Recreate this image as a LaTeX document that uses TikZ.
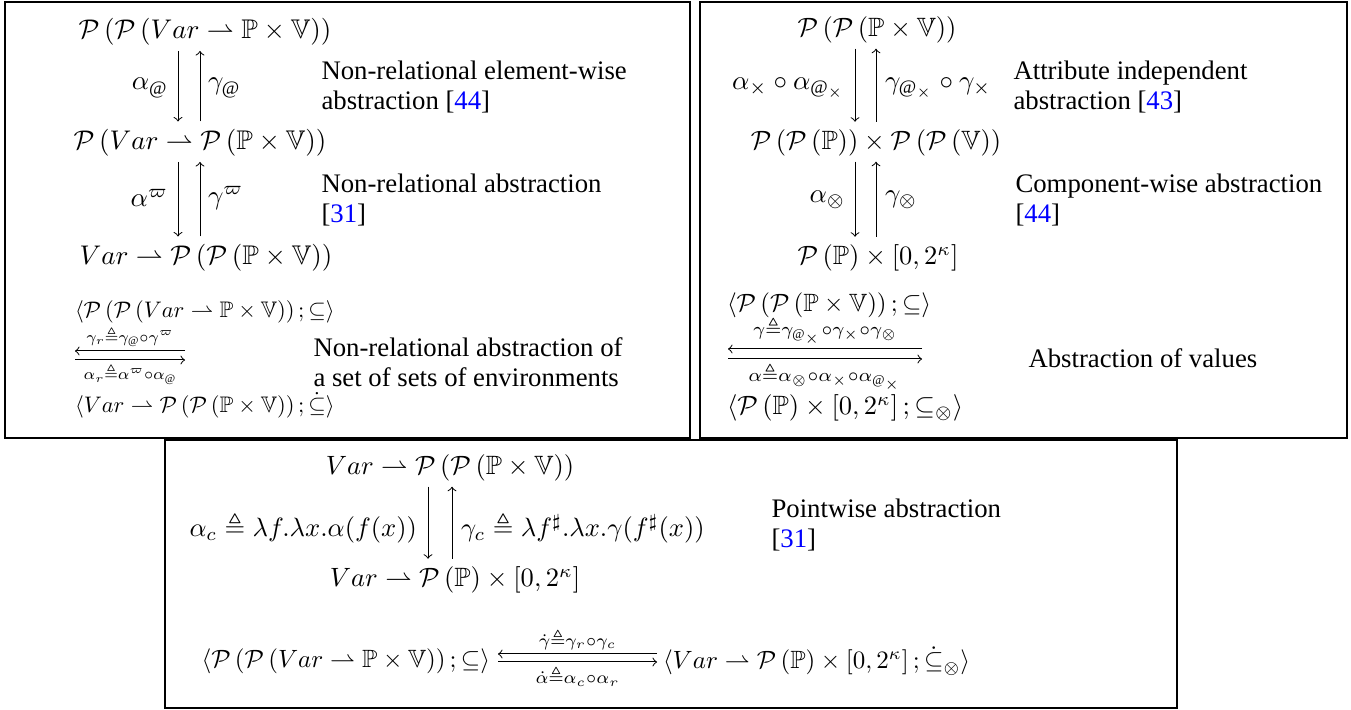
\documentclass[tikz,border=0pt]{standalone}
\usepackage{amsmath,amssymb}
\usepackage{fontspec}
\setmainfont{Liberation Serif}
\usetikzlibrary{calc}
\tikzset{
  m/.style={inner sep=1pt},
  lbl/.style={inner sep=1pt},
  txt/.style={align=left, inner sep=0pt, anchor=west, font=\fontsize{10.7}{12}\selectfont},
  frame/.style={draw, line width=0.5pt},
  arr/.style={->, line width=0.4pt},
}
\newcommand{\Pc}{\mathcal{P}}
\newcommand{\pf}{\rightharpoonup}
\newcommand{\cit}[1]{[\textcolor{blue}{#1}]}
\newcommand{\mA}[1]{\scalebox{1.08}{$#1$}}
\newcommand{\mB}[1]{\scalebox{1.06}{$#1$}}
\newcommand{\mS}[1]{\scalebox{0.9}{$#1$}}
\begin{document}
\begin{tikzpicture}[x=0.4pt,y=-0.4pt]
\useasboundingbox (0,0) rectangle (1351,710);
% frames
\draw[frame] (5,2) rectangle (690,438);
\draw[frame] (700,2) rectangle (1347,438);
\draw[frame] (165,440) rectangle (1177,708);

% ---------- Box 1 ----------
\node[m] (a1) at (205,32) {\mA{\Pc\left(\Pc\left(Var\pf\mathbb{P}\times\mathbb{V}\right)\right)}};
\node[m] (a2) at (200,143) {\mA{\Pc\left(Var\pf\Pc\left(\mathbb{P}\times\mathbb{V}\right)\right)}};
\node[m] (a3) at (206,258) {\mA{Var\pf\Pc\left(\Pc\left(\mathbb{P}\times\mathbb{V}\right)\right)}};
\coordinate (xa) at (178,0);
\coordinate (xb) at (200,0);
\draw[arr, shorten <=1pt, shorten >=2pt] (a1.south -| xa) -- (a2.north -| xa);
\draw[arr, shorten <=2pt, shorten >=1pt] (a2.north -| xb) -- (a1.south -| xb);
\draw[arr, shorten <=1pt, shorten >=2pt] (a2.south -| xa) -- (a3.north -| xa);
\draw[arr, shorten <=2pt, shorten >=1pt] (a3.north -| xb) -- (a2.south -| xb);
\node[lbl, anchor=east] (la1) at (171,88) {\mA{\alpha_{@}}};
\node[lbl, anchor=west] (ga1) at (205,88) {\mA{\gamma_{@}}};
\node[lbl, anchor=east] (la2) at (171,198) {\mA{\alpha^{\varpi}}};
\node[lbl, anchor=west] (ga2) at (205,198) {\mA{\gamma^{\varpi}}};
\node[txt] (t1) at (321,87) {Non-relational element-wise\\abstraction \cit{44}};
\node[txt] (t2) at (321,200) {Non-relational abstraction\\{}\cit{31}};
\node[txt] (t3) at (313,362) {Non-relational abstraction of\\a set of sets of environments};
\node[m, anchor=west] (b1) at (72,312) {\mS{\langle\Pc\left(\Pc\left(Var\pf\mathbb{P}\times\mathbb{V}\right)\right);\subseteq\rangle}};
\node[m, anchor=west] (b2) at (72,405) {\mS{\langle Var\pf\Pc\left(\Pc\left(\mathbb{P}\times\mathbb{V}\right)\right);\mathrel{\dot{\subseteq}}\rangle}};
\coordinate (p1l) at (75,351); \coordinate (p1r) at (185,351);
\coordinate (q1l) at (75,360); \coordinate (q1r) at (185,360);
\draw[arr] (p1r) -- (p1l);
\draw[arr] (q1l) -- (q1r);
\node[lbl, anchor=south, inner sep=1.5pt] (gr) at ($(p1l)!0.5!(p1r)$) {\mS{\scriptstyle\gamma_r\triangleq\gamma_{@}\circ\gamma^{\varpi}}};
\node[lbl, anchor=north, inner sep=1.5pt] (ar) at ($(q1l)!0.5!(q1r)$) {\mS{\scriptstyle\alpha_r\triangleq\alpha^{\varpi}\circ\alpha_{@}}};

% ---------- Box 2 ----------
\node[m] (c1) at (877,30) {\mB{\Pc\left(\Pc\left(\mathbb{P}\times\mathbb{V}\right)\right)}};
\node[m] (c2) at (876,143) {\mB{\Pc\left(\Pc\left(\mathbb{P}\right)\right)\times\Pc\left(\Pc\left(\mathbb{V}\right)\right)}};
\node[m] (c3) at (878,258) {\mB{\Pc\left(\mathbb{P}\right)\times\left[0,2^{\kappa}\right]}};
\coordinate (xc) at (855,0);
\coordinate (xd) at (876,0);
\draw[arr, shorten <=1pt, shorten >=2pt] (c1.south -| xc) -- (c2.north -| xc);
\draw[arr, shorten <=2pt, shorten >=1pt] (c2.north -| xd) -- (c1.south -| xd);
\draw[arr, shorten <=1pt, shorten >=2pt] (c2.south -| xc) -- (c3.north -| xc);
\draw[arr, shorten <=2pt, shorten >=1pt] (c3.north -| xd) -- (c2.south -| xd);
\node[lbl, anchor=east] (lc1) at (848,88) {\mA{\alpha_{\times}\circ\alpha_{@_{\times}}}};
\node[lbl, anchor=west] (gc1) at (882,88) {\mA{\gamma_{@_{\times}}\circ\gamma_{\times}}};
\node[lbl, anchor=east] (lc2) at (848,200) {\mA{\alpha_{\otimes}}};
\node[lbl, anchor=west] (gc2) at (882,200) {\mA{\gamma_{\otimes}}};
\node[txt] (t4) at (1013,87) {Attribute independent\\abstraction \cit{43}};
\node[txt] (t5) at (1015,200) {Component-wise abstraction\\{}\cit{44}};
\node[txt] (t6) at (1028,358) {Abstraction of values};
\node[m, anchor=west] (d1) at (724,305) {$\langle\Pc\left(\Pc\left(\mathbb{P}\times\mathbb{V}\right)\right);\subseteq\rangle$};
\node[m, anchor=west] (d2) at (724,408) {\mB{\langle\Pc\left(\mathbb{P}\right)\times\left[0,2^{\kappa}\right];\subseteq_{\otimes}\rangle}};
\coordinate (p2l) at (728,349); \coordinate (p2r) at (922,349);
\coordinate (q2l) at (728,359); \coordinate (q2r) at (922,359);
\draw[arr] (p2r) -- (p2l);
\draw[arr] (q2l) -- (q2r);
\node[lbl, anchor=south, inner sep=1.5pt] (gg) at ($(p2l)!0.5!(p2r)$) {\mB{\scriptstyle\gamma\triangleq\gamma_{@_{\times}}\circ\gamma_{\times}\circ\gamma_{\otimes}}};
\node[lbl, anchor=north, inner sep=1.5pt] (aa) at ($(q2l)!0.5!(q2r)$) {\mB{\scriptstyle\alpha\triangleq\alpha_{\otimes}\circ\alpha_{\times}\circ\alpha_{@_{\times}}}};

% ---------- Box 3 ----------
\node[m] (e1) at (450,468) {\mB{Var\pf\Pc\left(\Pc\left(\mathbb{P}\times\mathbb{V}\right)\right)}};
\node[m] (e2) at (455,580) {\mB{Var\pf\Pc\left(\mathbb{P}\right)\times\left[0,2^{\kappa}\right]}};
\coordinate (xe) at (428,0);
\coordinate (xf) at (452,0);
\draw[arr, shorten <=1pt, shorten >=2pt] (e1.south -| xe) -- (e2.north -| xe);
\draw[arr, shorten <=2pt, shorten >=1pt] (e2.north -| xf) -- (e1.south -| xf);
\node[lbl, anchor=east] (lc) at (420,528) {\mB{\alpha_c\triangleq\lambda f.\lambda x.\alpha(f(x))}};
\node[lbl, anchor=west] (gc) at (458,528) {\mB{\gamma_c\triangleq\lambda f^{\sharp}.\lambda x.\gamma(f^{\sharp}(x))}};
\node[txt] (t7) at (771,525) {Pointwise abstraction\\{}\cit{31}};
\node[m, anchor=east] (f1) at (493,661) {$\langle\Pc\left(\Pc\left(Var\pf\mathbb{P}\times\mathbb{V}\right)\right);\subseteq\rangle$};
\node[m, anchor=west] (f2) at (660,661) {$\langle Var\pf\Pc\left(\mathbb{P}\right)\times\left[0,2^{\kappa}\right];\mathrel{\dot{\subseteq}}_{\otimes}\rangle$};
\coordinate (p3l) at (498,654); \coordinate (p3r) at (657,654);
\coordinate (q3l) at (498,662); \coordinate (q3r) at (657,662);
\draw[arr] (p3r) -- (p3l);
\draw[arr] (q3l) -- (q3r);
\node[lbl, anchor=south, inner sep=1.5pt] (gd) at ($(p3l)!0.5!(p3r)$) {$\scriptstyle\dot{\gamma}\triangleq\gamma_r\circ\gamma_c$};
\node[lbl, anchor=north, inner sep=1.5pt] (ad) at ($(q3l)!0.5!(q3r)$) {$\scriptstyle\dot{\alpha}\triangleq\alpha_c\circ\alpha_r$};
\end{tikzpicture}
\end{document}
